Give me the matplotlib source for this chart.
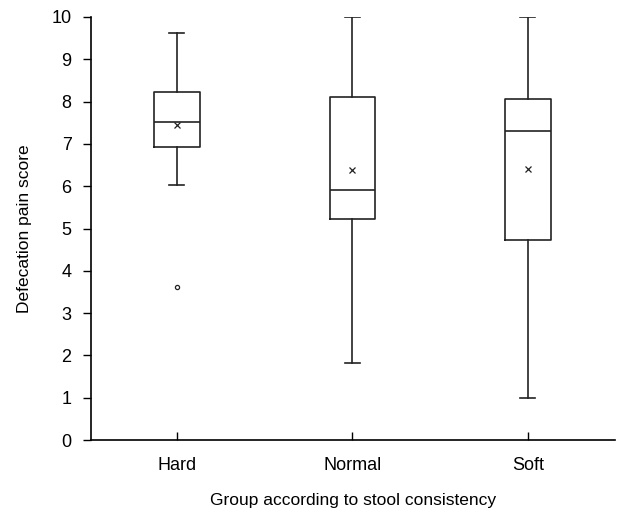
import matplotlib.pyplot as plt
from matplotlib import font_manager

# Box statistics
groups = ['Hard', 'Normal', 'Soft']
whisker_low = [6.02, 1.81, 1.0]
q1 = [6.92, 5.22, 4.72]
median = [7.52, 5.91, 7.30]
q3 = [8.22, 8.10, 8.05]
whisker_high = [9.61, 10.0, 10.0]
means = [7.44, 6.38, 6.40]
outliers = [[3.61], [], []]

names = {f.name for f in font_manager.fontManager.ttflist}
family = ['Liberation Sans Narrow'] if 'Liberation Sans Narrow' in names else ['Liberation Sans']
plt.rcParams['font.family'] = family + ['DejaVu Sans']

stats = []
for i, g in enumerate(groups):
    stats.append({'label': g, 'whislo': whisker_low[i], 'q1': q1[i], 'med': median[i],
                  'q3': q3[i], 'whishi': whisker_high[i], 'mean': means[i],
                  'fliers': outliers[i]})

fig = plt.figure(figsize=(6.17, 5.15), dpi=100)
ax = fig.add_axes([0.1475, 0.1456, 0.85, 0.8214])

line = dict(color='#222222', linewidth=1.2)
ax.bxp(stats, positions=[1, 2, 3], widths=0.26, showmeans=True,
       boxprops=line, whiskerprops=line, capprops=line,
       medianprops=line, capwidths=0.085,
       meanprops=dict(marker='x', markeredgecolor='#222222', markersize=5, markeredgewidth=0.9),
       flierprops=dict(marker='o', markerfacecolor='white', markeredgecolor='#222222',
                       markersize=3, markeredgewidth=0.9))

ax.set_xlim(0.51, 3.5)
ax.set_ylim(0, 10)
ax.set_yticks(range(0, 11))
ax.spines['top'].set_visible(False)
ax.spines['right'].set_visible(False)
ax.spines['left'].set_linewidth(1.2)
ax.spines['bottom'].set_linewidth(1.2)
ax.tick_params(axis='y', direction='out', length=6, width=1, labelsize=13, pad=8)
ax.tick_params(axis='x', direction='in', length=6, width=1, labelsize=13, pad=12)
ax.set_xticklabels(groups)
ax.set_ylabel('Defecation pain score', fontsize=12.5, labelpad=14)
ax.set_xlabel('Group according to stool consistency', fontsize=12.5, labelpad=14)

fig.savefig('out.png', dpi=100)
